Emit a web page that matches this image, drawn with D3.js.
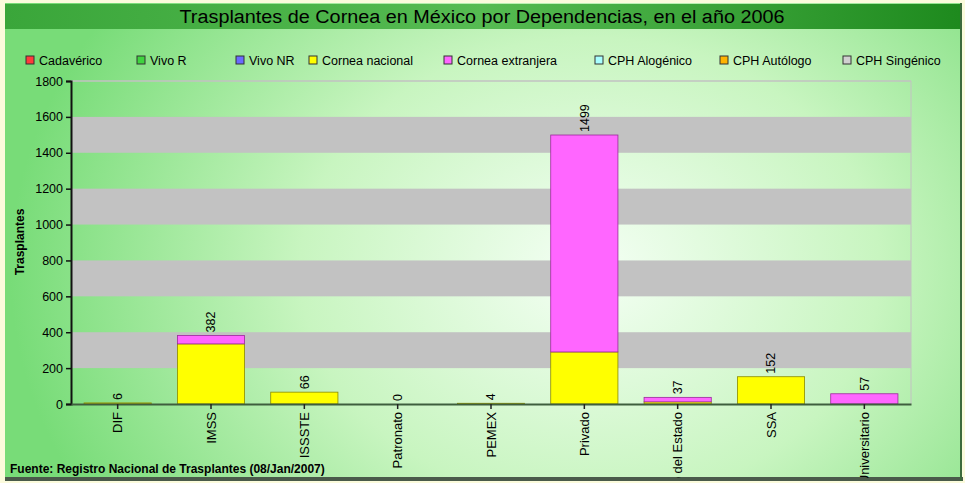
<!DOCTYPE html>
<html>
<head>
<meta charset="utf-8">
<script src="https://cdn.jsdelivr.net/npm/d3@7"></script>
<style>
  body { margin: 0; background: #fbfbdc; }
  svg { display: block; font-family: "Liberation Sans", Arial, sans-serif; }
</style>
</head>
<body>
<div id="chart"></div>
<script>
// categories and series values
var categories = ["DIF", "IMSS", "ISSSTE", "Patronato", "PEMEX", "Privado", "Gobierno del Estado", "SSA", "Universitario"];
var cadaverico = [0, 0, 0, 0, 0, 0, 0, 0, 0];
var vivoR = [0, 0, 0, 0, 0, 0, 0, 0, 0];
var vivoNR = [0, 0, 0, 0, 0, 0, 0, 0, 0];
var corneaNacional = [6, 335, 66, 0, 4, 290, 12, 152, 0];
var corneaExtranjera = [0, 47, 0, 0, 0, 1209, 25, 0, 57];
var cphAlogenico = [0, 0, 0, 0, 0, 0, 0, 0, 0];
var cphAutologo = [0, 0, 0, 0, 0, 0, 0, 0, 0];
var cphSingenico = [0, 0, 0, 0, 0, 0, 0, 0, 0];
var yTicks = [0, 200, 400, 600, 800, 1000, 1200, 1400, 1600, 1800];

var seriesNames = ["Cadavérico", "Vivo R", "Vivo NR", "Cornea nacional", "Cornea extranjera", "CPH Alogénico", "CPH Autólogo", "CPH Singénico"];
var seriesValues = [cadaverico, vivoR, vivoNR, corneaNacional, corneaExtranjera, cphAlogenico, cphAutologo, cphSingenico];
var seriesColors = ["#ff3b3b", "#3fd43f", "#6a6aff", "#ffff00", "#ff66ff", "#a8ffff", "#ffb300", "#d0d0d0"];
var seriesEdges = ["#992222", "#208020", "#333399", "#8a8a00", "#9a2a9a", "#4a9a9a", "#8a6000", "#777777"];
var legendX = [26, 137, 236, 309, 444, 595, 720, 843];

var W = 965, H = 483;
var svg = d3.select("#chart").append("svg")
    .attr("width", W)
    .attr("height", H);

var defs = svg.append("defs");
var bg = defs.append("radialGradient").attr("id", "bg")
    .attr("gradientUnits", "userSpaceOnUse")
    .attr("cx", 590).attr("cy", 270).attr("r", 580)
    .attr("gradientTransform", "translate(590,270) scale(1,0.8) translate(-590,-270)");
bg.append("stop").attr("offset", "0").attr("stop-color", "#f4fff4");
bg.append("stop").attr("offset", "0.5").attr("stop-color", "#c8f5c0");
bg.append("stop").attr("offset", "1").attr("stop-color", "#78dc78");

var tb = defs.append("linearGradient").attr("id", "titlebar")
    .attr("x1", "0").attr("x2", "1").attr("y1", "0").attr("y2", "0");
tb.append("stop").attr("offset", "0").attr("stop-color", "#3aa63a");
tb.append("stop").attr("offset", "0.5").attr("stop-color", "#56bb52");
tb.append("stop").attr("offset", "1").attr("stop-color", "#1e8a1e");

defs.append("clipPath").attr("id", "panel")
    .append("rect").attr("x", 5).attr("y", 3).attr("width", 955).attr("height", 475);

// panel background
svg.append("rect")
    .attr("x", 5).attr("y", 3).attr("width", 955).attr("height", 476)
    .attr("fill", "url(#bg)");
svg.append("rect")
    .attr("x", 5).attr("y", 477).attr("width", 958).attr("height", 4)
    .attr("fill", "#4a5a4a");
svg.append("rect")
    .attr("x", 960).attr("y", 3).attr("width", 2).attr("height", 478)
    .attr("fill", "#3c6a3c");

// title bar
svg.append("rect")
    .attr("x", 5).attr("y", 4).attr("width", 955).attr("height", 25)
    .attr("fill", "url(#titlebar)");
svg.append("text")
    .attr("x", 482).attr("y", 23)
    .attr("text-anchor", "middle")
    .attr("font-size", "18px")
    .attr("textLength", 605)
    .attr("lengthAdjust", "spacingAndGlyphs")
    .attr("fill", "#000")
    .text("Trasplantes de Cornea en México por Dependencias, en el año 2006");

// legend
var legend = svg.selectAll(".legend")
    .data(seriesNames)
    .enter().append("g")
    .attr("class", "legend")
    .attr("transform", function (d, i) { return "translate(" + legendX[i] + ",56)"; });
legend.append("rect")
    .attr("width", 8).attr("height", 8)
    .attr("fill", function (d, i) { return seriesColors[i]; })
    .attr("stroke", "#333").attr("stroke-width", 1);
legend.append("text")
    .attr("x", 13).attr("y", 9)
    .attr("font-size", "12.5px")
    .text(function (d) { return d; });

// scales
var plotL = 71, plotR = 911, plotT = 81, plotB = 404;
var x = d3.scaleBand().domain(categories).range([plotL, plotR]).paddingInner(0.28).paddingOuter(0.14);
var y = d3.scaleLinear().domain([0, 1800]).range([plotB, plotT]);

// gray bands
var bands = [[200, 400], [600, 800], [1000, 1200], [1400, 1600]];
svg.selectAll(".band")
    .data(bands)
    .enter().append("rect")
    .attr("class", "band")
    .attr("x", plotL).attr("width", plotR - plotL)
    .attr("y", function (d) { return y(d[1]); })
    .attr("height", function (d) { return y(d[0]) - y(d[1]); })
    .attr("fill", "#c2c2c2");
svg.append("line")
    .attr("x1", plotL).attr("x2", plotR)
    .attr("y1", y(1800)).attr("y2", y(1800))
    .attr("stroke", "#c2c2c2").attr("stroke-width", 1.5);
svg.append("line")
    .attr("x1", plotR).attr("x2", plotR)
    .attr("y1", plotT).attr("y2", plotB)
    .attr("stroke", "#c2c2c2").attr("stroke-width", 1);

// stacked bars
var table = categories.map(function (c, i) {
    var row = { cat: c };
    seriesNames.forEach(function (s, j) { row[s] = seriesValues[j][i]; });
    return row;
});
var stack = d3.stack().keys(seriesNames)(table);

var layers = svg.selectAll(".layer")
    .data(stack)
    .enter().append("g")
    .attr("class", "layer");
layers.selectAll("rect")
    .data(function (d) { return d.map(function (p) { return { p: p, k: d.index }; }); })
    .enter().filter(function (d) { return d.p[1] - d.p[0] > 0; })
    .append("rect")
    .attr("x", function (d) { return x(d.p.data.cat); })
    .attr("width", x.bandwidth())
    .attr("y", function (d) { return y(d.p[1]); })
    .attr("height", function (d) { return Math.max(1, y(d.p[0]) - y(d.p[1])); })
    .attr("fill", function (d) { return seriesColors[d.k]; })
    .attr("stroke", function (d) { return seriesEdges[d.k]; })
    .attr("stroke-width", 0.8);

// totals above bars
var totals = categories.map(function (c, i) {
    return d3.sum(seriesValues, function (s) { return s[i]; });
});
svg.selectAll(".total")
    .data(categories)
    .enter().append("text")
    .attr("class", "total")
    .attr("transform", function (d, i) {
        return "translate(" + (x(d) + x.bandwidth() / 2) + "," + (y(totals[i]) - 3) + ") rotate(-90)";
    })
    .attr("dy", "0.35em")
    .attr("font-size", "12.5px")
    .text(function (d, i) { return totals[i]; });

// axes
var yAxis = svg.append("g")
    .attr("transform", "translate(" + plotL + ",0)")
    .call(d3.axisLeft(y).tickValues(yTicks).tickFormat(d3.format("d")).tickSize(5).tickPadding(3));
yAxis.select(".domain").attr("stroke", "#111").attr("stroke-width", 2);
yAxis.selectAll(".tick line").attr("stroke", "#111").attr("stroke-width", 1.5);
yAxis.selectAll("text").attr("font-size", "12.5px").attr("font-family", "Liberation Sans, Arial, sans-serif").attr("fill", "#000");

var xAxis = svg.append("g")
    .attr("transform", "translate(0," + plotB + ")");
xAxis.call(d3.axisBottom(x).tickSize(5).tickSizeOuter(0).tickPadding(8));
xAxis.select(".domain").attr("stroke", "#3e5e3e").attr("stroke-width", 2);
xAxis.selectAll(".tick line").attr("stroke", "#222").attr("stroke-width", 1.5);
xAxis.selectAll("text").remove();

// category labels, cut at the panel's bottom edge as in the original
var catLabels = svg.append("g").attr("clip-path", "url(#panel)");
catLabels.selectAll("text")
    .data(categories)
    .enter().append("text")
    .attr("transform", function (d) {
        return "translate(" + (x(d) + x.bandwidth() / 2) + "," + (plotB + 8) + ") rotate(-90)";
    })
    .attr("dy", "0.35em")
    .attr("text-anchor", "end")
    .attr("font-size", "13px")
    .text(function (d) { return d; });

// axis title
svg.append("text")
    .attr("transform", "translate(24,242) rotate(-90)")
    .attr("text-anchor", "middle")
    .attr("font-size", "12px")
    .attr("font-weight", "bold")
    .text("Trasplantes");

// source note
svg.append("text")
    .attr("x", 10).attr("y", 473)
    .attr("font-size", "12px")
    .attr("font-weight", "bold")
    .text("Fuente: Registro Nacional de Trasplantes (08/Jan/2007)");
</script>
</body>
</html>
